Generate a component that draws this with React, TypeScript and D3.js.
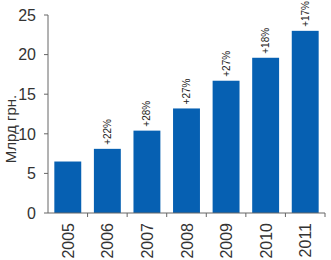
import React from "react";
import * as d3 from "d3";

const years = ["2005", "2006", "2007", "2008", "2009", "2010", "2011"];
const values = [6.5, 8.1, 10.4, 13.2, 16.7, 19.6, 23.0];
const growth = ["", "+22%", "+28%", "+27%", "+27%", "+18%", "+17%"];
const yTicks = [0, 5, 10, 15, 20, 25];

const W = 331, H = 260;
const left = 48, right = 325, top = 15, bottom = 213;

export default function App() {
  const x = d3.scaleBand<string>().domain(years).range([left, right]).paddingInner(0.32).paddingOuter(0.16);
  const y = d3.scaleLinear().domain([0, 25]).range([bottom, top]);
  const step = x.step();
  const axisColor = "#666";
  const font = "'Liberation Sans', Arial, sans-serif";
  return (
    <svg width={W} height={H} style={{ position: "absolute", left: 0, top: 0, background: "#fff" }} fontFamily={font}>
      {years.map((yr, i) => (
        <rect key={yr} x={x(yr)} y={y(values[i])} width={x.bandwidth()} height={bottom - y(values[i])} fill="#0660b2" />
      ))}
      {years.map((yr, i) =>
        growth[i] ? (
          <text key={"g" + yr} transform={`translate(${(x(yr) as number) + x.bandwidth() / 2 + 3.5},${y(values[i]) - 4}) rotate(-90)`}
            fontSize={10} fill="#222" textAnchor="start">{growth[i]}</text>
        ) : null
      )}
      <line x1={left} x2={left} y1={top} y2={bottom} stroke={axisColor} strokeWidth={1} />
      <line x1={left} x2={right} y1={bottom} y2={bottom} stroke={axisColor} strokeWidth={1} />
      {yTicks.map((t) => (
        <g key={t}>
          <line x1={left - 4} x2={left} y1={y(t)} y2={y(t)} stroke={axisColor} />
          <text x={36} y={y(t)} dy="0.36em" textAnchor="end" fontSize={16} fill="#333">{t}</text>
        </g>
      ))}
      {years.map((yr, i) => (
        <line key={"t" + yr} x1={left + step * (i + 1)} x2={left + step * (i + 1)} y1={bottom} y2={bottom + 4} stroke={axisColor} />
      ))}
      {years.map((yr) => (
        <text key={"l" + yr} transform={`translate(${(x(yr) as number) + x.bandwidth() / 2 + 6},${bottom + 10}) rotate(-90)`}
          fontSize={16} fill="#333" textAnchor="end">{yr}</text>
      ))}
      <text transform={`translate(16,${(top + bottom) / 2 + 15}) rotate(-90)`} textAnchor="middle" fontSize={15} fill="#333">Млрд грн.</text>
    </svg>
  );
}
